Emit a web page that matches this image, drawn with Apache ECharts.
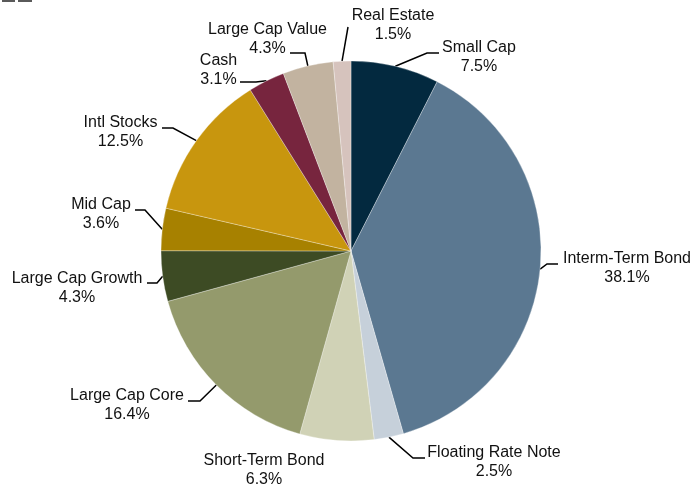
<!DOCTYPE html>
<html>
<head>
<meta charset="utf-8">
<script src="https://cdn.jsdelivr.net/npm/echarts@6/dist/echarts.min.js"></script>
<style>
  html, body { margin: 0; padding: 0; background: #fff; }
  #chart { width: 694px; height: 487px; }
</style>
</head>
<body>
<div id="chart"></div>
<script>
// data, clockwise from 12 o'clock
const categories = ['Small Cap', 'Interm-Term Bond', 'Floating Rate Note', 'Short-Term Bond',
  'Large Cap Core', 'Large Cap Growth', 'Mid Cap', 'Intl Stocks', 'Cash', 'Large Cap Value', 'Real Estate'];
const weights = [7.5, 38.1, 2.5, 6.3, 16.4, 4.3, 3.6, 12.5, 3.1, 4.3, 1.5];
const colors = ['#03293f', '#5b7891', '#c6d0da', '#d0d2b6', '#949a6c', '#3d4b24',
  '#a78100', '#c8960e', '#77253e', '#c2b3a0', '#d6c3bd'];

// label placement (block centre, line end, elbow) - layout only
const labelPlace = [
  {c: [479, 57], end: [439, 53], elbow: [427, 53]},
  {c: [627, 268.5], end: [558, 264], elbow: [547, 264]},
  {c: [494, 462], end: [425, 458], elbow: [413, 458]},
  {c: [264, 470.5], end: null, elbow: null},
  {c: [127, 405.5], end: [188, 401], elbow: [200, 401]},
  {c: [77, 288.5], end: [147, 283], elbow: [157, 283]},
  {c: [101, 214], end: [135, 210], elbow: [145, 210]},
  {c: [120.5, 132.5], end: [162, 128], elbow: [173, 128]},
  {c: [218.5, 70], end: [240, 82], elbow: [256, 82]},
  {c: [267.5, 39], end: [290, 53], elbow: [305, 53]},
  {c: [393, 25], end: [348, 27], elbow: [348, 27]}
];

const chart = echarts.init(document.getElementById('chart'));

const option = {
  animation: false,
  backgroundColor: '#fff',
  graphic: [
    {type: 'rect', shape: {x: 2, y: 0, width: 13, height: 2}, style: {fill: '#5a5a5a'}},
    {type: 'rect', shape: {x: 18, y: 0, width: 14, height: 2}, style: {fill: '#5a5a5a'}}
  ],
  series: [{
    type: 'pie',
    center: [351, 251],
    radius: 190,
    startAngle: 90,
    clockwise: true,
    avoidLabelOverlap: false,
    itemStyle: {borderColor: 'rgba(255,255,255,0.6)', borderWidth: 0.5},
    label: {
      show: true,
      position: 'outside',
      formatter: '{b}\n{c}%',
      fontFamily: 'Liberation Sans, Arial, sans-serif',
      fontSize: 16,
      lineHeight: 19,
      color: '#111',
      align: 'center'
    },
    labelLine: {show: true, lineStyle: {color: '#000', width: 1.5}},
    labelLayout: function (params) {
      const p = labelPlace[params.dataIndex];
      const out = {x: p.c[0], y: p.c[1], align: 'center', verticalAlign: 'middle'};
      if (p.end && params.labelLinePoints) {
        out.labelLinePoints = [params.labelLinePoints[0], p.elbow, p.end];
      }
      return out;
    },
    data: categories.map((name, i) => ({
      name: name,
      value: weights[i],
      itemStyle: {color: colors[i]},
      labelLine: {show: labelPlace[i].end !== null}
    }))
  }]
};

chart.setOption(option);
</script>
</body>
</html>
